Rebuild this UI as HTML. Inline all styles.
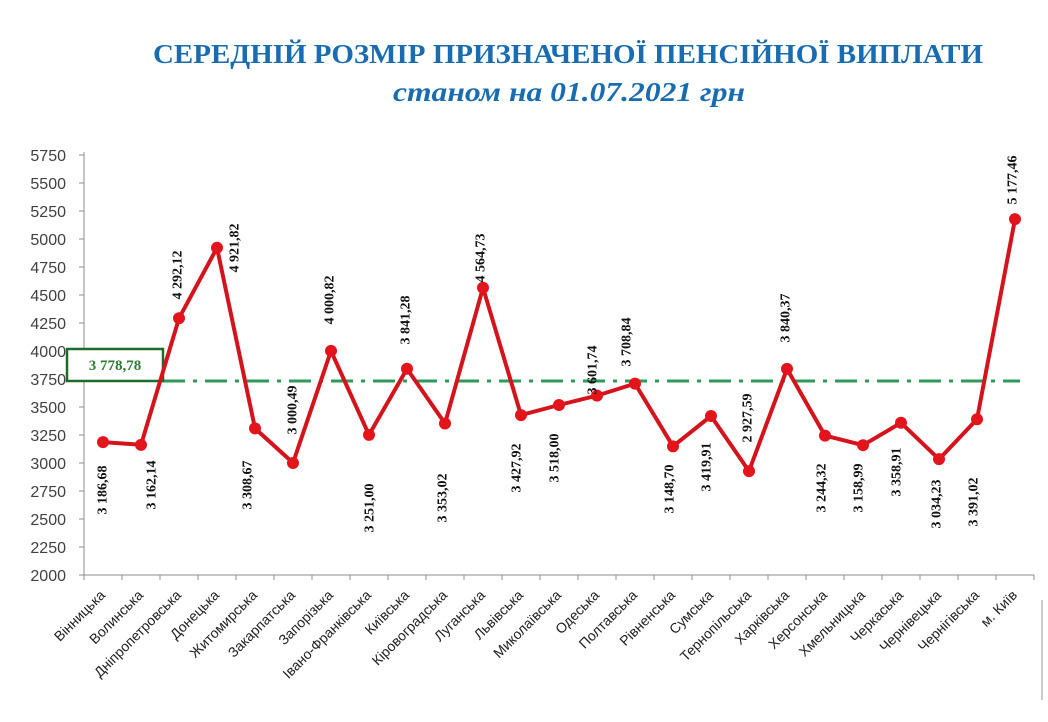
<!DOCTYPE html>
<html><head><meta charset="utf-8"><style>html,body{margin:0;padding:0;background:#fff}svg{display:block}</style></head>
<body>
<svg width="1048" height="722" viewBox="0 0 1048 722" xmlns="http://www.w3.org/2000/svg">
<rect width="1048" height="722" fill="#fff"/>
<text x="568" y="63" text-anchor="middle" font-family="Liberation Serif, serif" font-weight="bold" font-size="27" fill="#1a6cb0" textLength="830" lengthAdjust="spacingAndGlyphs">СЕРЕДНІЙ РОЗМІР ПРИЗНАЧЕНОЇ ПЕНСІЙНОЇ ВИПЛАТИ</text>
<text x="569" y="101" text-anchor="middle" font-family="Liberation Serif, serif" font-weight="bold" font-style="italic" font-size="27" fill="#1a6cb0" textLength="352" lengthAdjust="spacingAndGlyphs">станом на 01.07.2021 грн</text>
<g id="axes" stroke="#8c8c8c" stroke-width="1" fill="none"></g>
<g id="plot"></g>
</svg>
<script>
const NS="http://www.w3.org/2000/svg";
const svg=document.querySelector('svg'),ax=document.getElementById('axes'),pl=document.getElementById('plot');
function el(t,a,p,txt){const e=document.createElementNS(NS,t);for(const k in a)e.setAttribute(k,a[k]);if(txt!=null)e.textContent=txt;(p||svg).appendChild(e);return e;}
const Y=v=>575-(v-2000)*420/3750;
el('line',{x1:84,y1:152,x2:84,y2:575},ax);
el('line',{x1:84,y1:575,x2:1034,y2:575},ax);
for(let v=2000;v<=5750;v+=250){const y=Y(v);el('line',{x1:79,y1:y,x2:84,y2:y},ax);
el('text',{x:66,y:y+6,'text-anchor':'end','font-family':'Liberation Sans, sans-serif','font-size':'16',fill:'#404040'},svg,String(v));}
for(let i=0;i<=25;i++){const x=84+i*38;el('line',{x1:x,y1:575,x2:x,y2:580},ax);}
const names=["Вінницька","Волинська","Дніпропетровська","Донецька","Житомирська","Закарпатська","Запорізька","Івано-Франківська","Київська","Кіровоградська","Луганська","Львівська","Миколаївська","Одеська","Полтавська","Рівненська","Сумська","Тернопільська","Харківська","Херсонська","Хмельницька","Черкаська","Чернівецька","Чернігівська","м. Київ"];
const vals=[3186.68,3162.14,4292.12,4921.82,3308.67,3000.49,4000.82,3251.00,3841.28,3353.02,4564.73,3427.92,3518.00,3601.74,3708.84,3148.70,3419.91,2927.59,3840.37,3244.32,3158.99,3358.91,3034.23,3391.02,5177.46];
const lab=[[103,490],[152,485],[178,275],[235,248],[248,485],[293,410],[330,300],[370,508],[406,320],[443,498],[481,258],[517,468],[555,458],[593,370],[627,342],[670,489],[707,467],[748,418],[786,318],[822,488],[859,488],[897,472],[937,504],[974,502],[1013,180]];
el('line',{x1:163,y1:381,x2:1020,y2:381,stroke:'#2e9a5a','stroke-width':3,'stroke-dasharray':'22 8 4 8'},pl);
el('rect',{x:67,y:349,width:96,height:32,fill:'#fff',stroke:'#1e6b2a','stroke-width':2.5},pl);
el('text',{x:115,y:370,'text-anchor':'middle','font-family':'Liberation Serif, serif','font-weight':'bold','font-size':'15',fill:'#2e7d32'},pl,'3 778,78');
let d='';vals.forEach((v,i)=>{d+=(i?'L':'M')+(103+i*38)+' '+Y(v).toFixed(1);});
el('path',{d:d,fill:'none',stroke:'#d4141c','stroke-width':4,'stroke-linejoin':'round'},pl);
vals.forEach((v,i)=>{el('circle',{cx:103+i*38,cy:Y(v),r:6,fill:'#e3141c'},pl);
const [lx,ly]=lab[i];const s=v.toFixed(2).replace('.',',');const t=s[0]+' '+s.slice(1);
el('text',{x:lx,y:ly,transform:`rotate(-90 ${lx} ${ly})`,'text-anchor':'middle','dominant-baseline':'central','font-family':'Liberation Serif, serif','font-weight':'bold','font-size':'14',fill:'#111'},pl,t);
el('text',{x:106+i*38,y:596,transform:`rotate(-45 ${106+i*38} 596)`,'text-anchor':'end','font-family':'Liberation Sans, sans-serif','font-size':'14',fill:'#222'},pl,names[i]);});
el('line',{x1:1042,y1:600,x2:1042,y2:700,stroke:'#ccc','stroke-width':2},pl);
</script>
</body></html>
